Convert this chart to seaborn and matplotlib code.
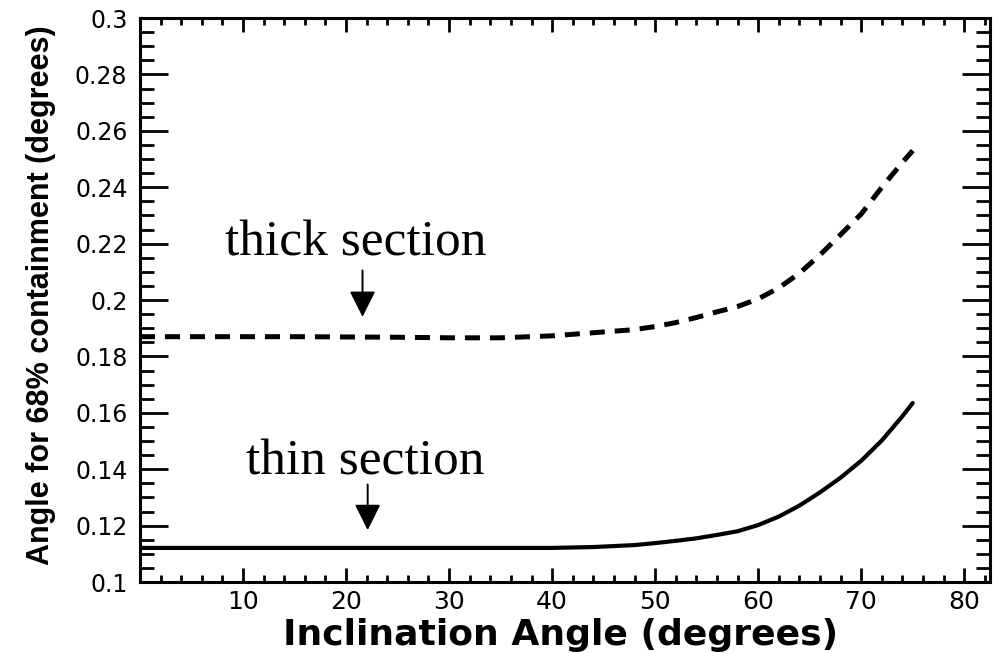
import matplotlib
matplotlib.use("Agg")
import matplotlib.pyplot as plt
from matplotlib.ticker import MultipleLocator, FixedLocator, FuncFormatter
import seaborn as sns
import pandas as pd

# Inclination angle samples (degrees) shared by both curves
angles = [0, 5, 10, 15, 20, 25, 30, 35, 40, 44, 48, 50, 52, 54, 56, 58, 60, 62, 64, 66,
          68, 70, 72, 74, 75]
# 68% containment angle (degrees) for the thick and thin converter sections
thick_section = [0.1870, 0.1870, 0.1870, 0.1870, 0.1869, 0.1868, 0.1866, 0.1866, 0.1873,
                 0.1884, 0.1895, 0.1906, 0.1920, 0.1938, 0.1958, 0.1977, 0.2004, 0.2043,
                 0.2095, 0.2160, 0.2232, 0.2305, 0.2400, 0.2488, 0.2530]
thin_section = [0.1121, 0.1121, 0.1121, 0.1121, 0.1121, 0.1121, 0.1121, 0.1121, 0.1121,
                0.1124, 0.1131, 0.1138, 0.1146, 0.1155, 0.1167, 0.1180, 0.1202, 0.1232,
                0.1271, 0.1318, 0.1370, 0.1430, 0.1502, 0.1588, 0.1635]

x_ticks = [10, 20, 30, 40, 50, 60, 70, 80]
y_ticks = [0.1, 0.12, 0.14, 0.16, 0.18, 0.2, 0.22, 0.24, 0.26, 0.28, 0.3]

df = pd.DataFrame({"angle": angles, "thick": thick_section, "thin": thin_section})

sns.set_theme(style="ticks")
plt.rcParams["font.family"] = ["DejaVu Sans"]
plt.rcParams["text.color"] = "black"
plt.rcParams["axes.labelcolor"] = "black"
plt.rcParams["xtick.color"] = "black"
plt.rcParams["ytick.color"] = "black"

fig = plt.figure(figsize=(9.94, 6.53), dpi=100)
ax = fig.add_axes([0.1408, 0.1087, 0.8552, 0.8637])

sns.lineplot(data=df, x="angle", y="thick", ax=ax, color="black", lw=3.6,
             dashes=False, legend=False)
ax.lines[-1].set_dashes([3.0, 2.0])
ax.lines[-1].set_dash_capstyle("butt")
sns.lineplot(data=df, x="angle", y="thin", ax=ax, color="black", lw=3.0, legend=False)

ax.set_xlim(0, 82.5)
ax.set_ylim(0.1, 0.3)

ax.xaxis.set_major_locator(FixedLocator(x_ticks))
ax.xaxis.set_minor_locator(MultipleLocator(2))
ax.yaxis.set_major_locator(FixedLocator(y_ticks))
ax.yaxis.set_minor_locator(MultipleLocator(0.005))
ax.yaxis.set_major_formatter(FuncFormatter(lambda v, p: f"{v:g}"))

ax.tick_params(axis="both", which="both", direction="in", top=True, right=True,
               color="black", width=2.0, labelcolor="black")
ax.tick_params(axis="x", which="major", length=10, labelsize=18, pad=6)
ax.tick_params(axis="x", which="minor", length=5)
ax.tick_params(axis="y", which="major", length=20, labelsize=17, pad=9)
ax.tick_params(axis="y", which="minor", length=10)

for s in ax.spines.values():
    s.set_linewidth(2.2)
    s.set_color("black")

ax.set_xlabel("Inclination Angle (degrees)", fontsize=26, fontweight="bold", va="center")
ax.xaxis.set_label_coords(0.495, -0.094)
ax.set_ylabel("Angle for 68% containment (degrees)", fontsize=22, fontweight="bold",
              family=["Liberation Sans", "DejaVu Sans"], va="center")
ax.yaxis.set_label_coords(-0.1165, 0.509)

serif = ["Liberation Serif", "DejaVu Serif"]
ax.text(20.9, 0.2202, "thick section", fontsize=37, family=serif, ha="center", va="center")
ax.text(21.9, 0.1426, "thin section", fontsize=37, family=serif, ha="center", va="center")

arrow = dict(arrowstyle="-|>,head_length=1.0,head_width=0.5", mutation_scale=16,
             color="black", lw=1.4, shrinkA=0, shrinkB=0)
ax.annotate("", xy=(21.6, 0.194), xytext=(21.6, 0.2105), arrowprops=arrow)
ax.annotate("", xy=(22.1, 0.1184), xytext=(22.1, 0.1346), arrowprops=arrow)

fig.savefig("out.png", dpi=100)
